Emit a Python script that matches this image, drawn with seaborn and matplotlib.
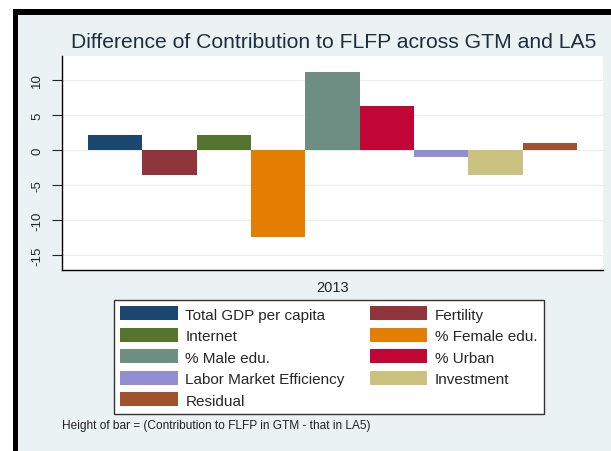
import pandas as pd
import matplotlib.pyplot as plt
from matplotlib.patches import Rectangle
import seaborn as sns

# data
year = ['2013']
categories = ['Total GDP per capita', 'Fertility', 'Internet', '% Female edu.',
              '% Male edu.', '% Urban', 'Labor Market Efficiency', 'Investment', 'Residual']
values = [2.1, -3.5, 2.2, -12.4, 11.2, 6.3, -1.0, -3.5, 1.0]
colors = ['#1a476f', '#90353b', '#55752f', '#e37e00', '#6e8e84',
          '#c10534', '#938dd2', '#cac27e', '#a0522d']
yticks = [-15, -10, -5, 0, 5, 10]

df = pd.DataFrame({'year': year * len(categories), 'factor': categories, 'diff': values})

sns.set_style('white')
plt.rcParams['font.family'] = ['Liberation Sans', 'DejaVu Sans']

fig = plt.figure(figsize=(6.11, 4.52), dpi=100)
fig.patch.set_facecolor('white')
W, H = 611, 452
# black frame and graph region background
fig.patches.append(Rectangle((12.7 / W, 0), 1, (H - 10) / H, transform=fig.transFigure,
                             facecolor='black', edgecolor='none', zorder=-2))
fig.patches.append(Rectangle((18.3 / W, 0), 1, (H - 15.5) / H, transform=fig.transFigure,
                             facecolor='#eaf2f3', edgecolor='none', zorder=-1))

ax = fig.add_axes([62 / W, (H - 271) / H, 541 / W, 214 / H])
sns.barplot(data=df, x='year', y='diff', hue='factor', hue_order=categories,
            palette=colors, width=0.904, linewidth=0, saturation=1, ax=ax)

ax.set_xlim(-0.5, 0.5)
ax.set_ylim(-17.14, 13.43)
ax.set_yticks(yticks)
ax.set_yticklabels([str(t) for t in yticks], rotation=90, va='center', fontsize=9.5)
ax.tick_params(axis='y', length=7, width=0.8, pad=6.5, left=True, direction='out')
ax.tick_params(axis='x', length=0, pad=7, labelsize=10.5)
ax.set_xlabel('')
ax.set_ylabel('')
ax.grid(axis='y', color='#ececec', linewidth=0.8)
ax.set_axisbelow(True)
ax.set_facecolor('white')
for s in ['top', 'right']:
    ax.spines[s].set_visible(False)
for s in ['left', 'bottom']:
    ax.spines[s].set_color('black')
    ax.spines[s].set_linewidth(1)

# legend in row order, two columns
handles, labels = ax.get_legend_handles_labels()
ax.legend_.remove()
order = [0, 2, 4, 6, 8, 1, 3, 5, 7]
leg = fig.legend([handles[i] for i in order], [labels[i] for i in order], ncol=2,
                 loc='upper left', bbox_to_anchor=(114 / W, 1 - 301 / H),
                 fontsize=11, handlelength=3.75, handleheight=1.03, labelspacing=0.41,
                 handletextpad=0.5, columnspacing=1.65, borderpad=0.42,
                 borderaxespad=0, fancybox=False, frameon=True)
leg.get_frame().set_edgecolor('#333333')
leg.get_frame().set_linewidth(1)
leg.get_frame().set_facecolor('white')
leg.get_frame().set_alpha(1)

fig.text(334 / W, 1 - 43 / H, 'Difference of Contribution to FLFP across GTM and LA5',
         ha='center', va='center', fontsize=15.2, color='#1f2d3d')
fig.text(62 / W, 1 - 426 / H, 'Height of bar = (Contribution to FLFP in GTM - that in LA5)',
         ha='left', va='center', fontsize=8.6, color='#222222')

plt.savefig('out.png', dpi=100)
